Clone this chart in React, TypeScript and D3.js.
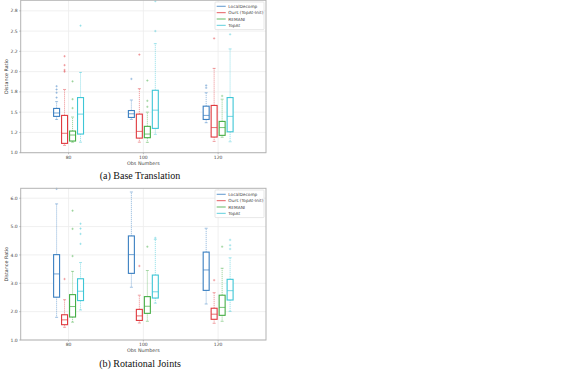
import React from "react";
import * as d3 from "d3";

const groups = [80, 100, 120];
const methods = ["LocalDecomp", "Ours (TopAt-Init)", "REMANI", "TopAt"];
const colors = ["#3a7fc1", "#e0393e", "#45ae45", "#3ec6d6"];

// [lowWhisker, q1, median, q3, highWhisker] per group
const transLocalDecomp = [[1.41, 1.448, 1.49, 1.546, 1.63], [1.41, 1.435, 1.48, 1.52, 1.65], [1.37, 1.41, 1.46, 1.574, 1.74]];
const transOurs = [[1.09, 1.115, 1.24, 1.46, 1.78], [1.13, 1.18, 1.263, 1.476, 1.79], [1.14, 1.193, 1.31, 1.583, 2.04]];
const transRemani = [[1.13, 1.144, 1.218, 1.267, 1.44], [1.128, 1.185, 1.23, 1.325, 1.5], [1.19, 1.214, 1.31, 1.386, 1.66]];
const transTopAt = [[1.13, 1.23, 1.476, 1.68, 1.99], [1.226, 1.3, 1.525, 1.77, 2.345], [1.135, 1.258, 1.448, 1.68, 2.28]];
const transFliersLocalDecomp = [[1.68, 1.74, 1.78, 1.82], [1.91], [1.8, 1.83]];
const transFliersOurs = [[2.0, 2.02, 2.08, 2.19], [2.21], [2.41]];
const transFliersRemani = [[1.55, 1.66, 1.88], [1.566, 1.64, 1.89], [1.7]];
const transFliersTopAt = [[2.567], [2.5, 2.87], [2.46]];

const rotLocalDecomp = [[1.8, 2.51, 3.33, 4.01, 5.8], [2.86, 3.35, 4.01, 4.67, 6.22], [2.27, 2.75, 3.47, 4.1, 4.94]];
const rotOurs = [[1.45, 1.54, 1.71, 1.89, 2.42], [1.6, 1.69, 1.85, 2.08, 2.58], [1.59, 1.73, 1.91, 2.12, 2.67]];
const rotRemani = [[1.63, 1.81, 2.18, 2.6, 3.42], [1.66, 1.94, 2.19, 2.53, 3.45], [1.66, 1.87, 2.15, 2.58, 3.53]];
const rotTopAt = [[2.06, 2.39, 2.72, 3.16, 3.73], [2.3, 2.48, 2.7, 3.29, 4.55], [2.01, 2.41, 2.74, 3.14, 3.9]];
const rotFliersLocalDecomp = [[6.33], [], []];
const rotFliersOurs = [[3.15], [3.61], [3.11]];
const rotFliersRemani = [[3.96, 4.92, 5.56], [4.29], [4.29]];
const rotFliersTopAt = [[4.39, 4.74, 4.93, 5.1], [4.6], [4.21, 4.34, 4.53]];

const transTicks = [1.0, 1.25, 1.5, 1.75, 2.0, 2.25, 2.5, 2.75];
const transTickLabels = ["1.0", "1.2", "1.5", "1.8", "2.0", "2.2", "2.5", "2.8"];
const rotTicks = [1, 2, 3, 4, 5, 6];
const rotTickLabels = ["1.0", "2.0", "3.0", "4.0", "5.0", "6.0"];

const offsets = [-3.2, -1.07, 1.07, 3.2];
const boxW = 1.6;

const W = 571, H = 380;
const left = 20.7, right = 266;

function Panel({ top, bottom, domain, stats, fliers, ticks, tickLabels, caption, captionY }: any) {
  const x = d3.scaleLinear().domain([67.2, 132.8]).range([left, right]);
  const y = d3.scaleLinear().domain(domain).range([bottom, top]);
  const font = "DejaVu Sans, sans-serif";
  const tc = "#444";
  return (
    <g>
      {/* grid */}
      {ticks.map((t: number, i: number) => (
        <line key={"gy" + i} x1={left} x2={right} y1={y(t)} y2={y(t)} stroke="#ececec" strokeWidth={0.8} />
      ))}
      {groups.map((g, i) => (
        <line key={"gx" + i} x1={x(g)} x2={x(g)} y1={top} y2={bottom} stroke="#ececec" strokeWidth={0.8} />
      ))}
      {/* boxes */}
      {methods.map((m, mi) =>
        groups.map((g, gi) => {
          const s = stats[mi][gi];
          const cx = x(g + offsets[mi]);
          const hw = (x(g + boxW / 2) - x(g - boxW / 2)) / 2;
          const capW = hw * 0.5;
          const c = colors[mi];
          return (
            <g key={m + g}>
              <line x1={cx} x2={cx} y1={y(s[3])} y2={y(s[4])} stroke={c} strokeOpacity={0.55} strokeWidth={0.9} strokeDasharray="1.2,0.8" />
              <line x1={cx} x2={cx} y1={y(s[1])} y2={y(s[0])} stroke={c} strokeOpacity={0.55} strokeWidth={0.9} strokeDasharray="1.2,0.8" />
              <line x1={cx - capW} x2={cx + capW} y1={y(s[4])} y2={y(s[4])} stroke={c} strokeOpacity={0.6} strokeWidth={0.8} />
              <line x1={cx - capW} x2={cx + capW} y1={y(s[0])} y2={y(s[0])} stroke={c} strokeOpacity={0.6} strokeWidth={0.8} />
              <rect x={cx - hw} y={y(s[3])} width={2 * hw} height={y(s[1]) - y(s[3])} fill="white" stroke={c} strokeWidth={1.1} />
              <line x1={cx - hw} x2={cx + hw} y1={y(s[2])} y2={y(s[2])} stroke={c} strokeOpacity={0.8} strokeWidth={0.9} />
              {fliers[mi][gi].map((f: number, fi: number) => (
                <path key={fi} d={`M${cx - 1.2},${y(f)}h2.4M${cx},${y(f) - 1.2}v2.4`} stroke={c} strokeOpacity={0.6} strokeWidth={0.6} />
              ))}
            </g>
          );
        })
      )}
      {/* frame */}
      <rect x={left} y={top} width={right - left} height={bottom - top} fill="none" stroke="#b3b3b3" strokeWidth={1} />
      {/* y ticks */}
      {ticks.map((t: number, i: number) => (
        <g key={"yt" + i}>
          <line x1={left - 1.5} x2={left} y1={y(t)} y2={y(t)} stroke="#888" strokeWidth={0.5} />
          <text x={left - 3} y={y(t)} dy="0.35em" fontSize={4.5} fontFamily={font} fill={tc} textAnchor="end">{tickLabels[i]}</text>
        </g>
      ))}
      {groups.map((g, i) => (
        <g key={"xt" + i}>
          <line x1={x(g)} x2={x(g)} y1={bottom} y2={bottom + 1.5} stroke="#888" strokeWidth={0.5} />
          <text x={x(g)} y={bottom + 6} fontSize={4.5} fontFamily={font} fill={tc} textAnchor="middle">{g}</text>
        </g>
      ))}
      <text x={x(100)} y={bottom + 12.3} fontSize={4.8} fontFamily={font} fill={tc} textAnchor="middle">Obs Numbers</text>
      <text transform={`translate(7.5,${(top + bottom) / 2}) rotate(-90)`} fontSize={4.8} fontFamily={font} fill={tc} textAnchor="middle">Distance Ratio</text>
      {/* legend */}
      <g>
        <rect x={215} y={top + 1.7} width={49} height={27.6} fill="white" stroke="#d6d6d6" strokeWidth={0.6} rx={0.8} />
        {methods.map((m, i) => {
          const ly = top + 6 + i * 6.35;
          return (
            <g key={"lg" + i}>
              <line x1={216.7} x2={225.7} y1={ly} y2={ly} stroke={colors[i]} strokeOpacity={0.75} strokeWidth={1.1} />
              <text x={228.3} y={ly} dy="0.35em" fontSize={4.3} fontFamily={font} fill={tc}>{m}</text>
            </g>
          );
        })}
      </g>
      <text x={140} y={captionY} fontSize={10} fontFamily="Liberation Serif, Times New Roman, serif" fill="#111" textAnchor="middle">{caption}</text>
    </g>
  );
}

export default function App() {
  return (
    <svg width={W} height={H} style={{ position: "absolute", left: 0, top: 0, background: "white" }}>
      <Panel
        top={0.3}
        bottom={152.7}
        domain={[1.0, 2.88]}
        stats={[transLocalDecomp, transOurs, transRemani, transTopAt]}
        fliers={[transFliersLocalDecomp, transFliersOurs, transFliersRemani, transFliersTopAt]}
        ticks={transTicks}
        tickLabels={transTickLabels}
        caption="(a) Base Translation"
        captionY={179}
      />
      <Panel
        top={188.3}
        bottom={340}
        domain={[1.0, 6.35]}
        stats={[rotLocalDecomp, rotOurs, rotRemani, rotTopAt]}
        fliers={[rotFliersLocalDecomp, rotFliersOurs, rotFliersRemani, rotFliersTopAt]}
        ticks={rotTicks}
        tickLabels={rotTickLabels}
        caption="(b) Rotational Joints"
        captionY={367}
      />
    </svg>
  );
}
